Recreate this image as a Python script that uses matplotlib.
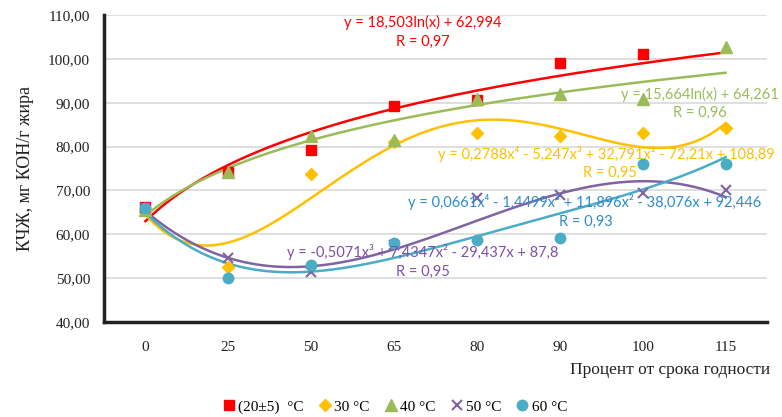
import numpy as np
import matplotlib.pyplot as plt

# данные
categories = ['0', '25', '50', '65', '80', '90', '100', '115']
t20 = [66.2, 74.2, 79.2, 89.2, 90.6, 99.0, 101.1, None]
t30 = [65.5, 52.6, 73.7, 81.0, 83.1, 82.4, 83.2, 84.2]
t40 = [65.5, 74.2, 82.4, 81.5, 90.8, 92.0, 90.8, 102.7]
t50 = [66.0, 54.5, 51.4, 57.5, 68.3, 69.0, 69.4, 70.1]
t60 = [66.0, 50.0, 53.0, 58.0, 58.7, 59.2, 76.0, 76.0]

# коэффициенты линий тренда (как на графике)
log20 = [18.503, 62.994]
poly30 = [0.2788, -5.247, 32.791, -72.21, 108.89]
log40 = [15.664, 64.261]
poly50 = [-0.5071, 7.4347, -29.437, 87.8]
poly60 = [0.0661, -1.4499, 11.896, -38.076, 92.446]

red = '#FF0000'
yellow = '#FFC000'
green = '#9BBB59'
purple = '#8064A2'
blue = '#4BACC6'

plt.rcParams['font.family'] = ['Liberation Serif']
fig = plt.figure(figsize=(7.82, 4.17), dpi=100)
ax = fig.add_axes([104 / 782, 1 - 322 / 417, (767 - 104) / 782, (322 - 15) / 417])

x = np.arange(1, len(categories) + 1)
xs = np.linspace(1, 8, 200)

# тренды
ax.plot(xs, log20[0] * np.log(xs) + log20[1], color=red, lw=1.8, zorder=2)
ax.plot(xs, np.polyval(poly30, xs), color=yellow, lw=1.8, zorder=2)
ax.plot(xs, log40[0] * np.log(xs) + log40[1], color=green, lw=1.8, zorder=2)
ax.plot(xs, np.polyval(poly50, xs), color=purple, lw=1.8, zorder=2)
ax.plot(xs, np.polyval(poly60, xs), color=blue, lw=1.8, zorder=2)

# точки
def pts(vals):
    xx = [xi for xi, v in zip(x, vals) if v is not None]
    yy = [v for v in vals if v is not None]
    return xx, yy

ax.plot(*pts(t20), 's', color=red, ms=7.5, ls='none', label='(20±5)  °C', zorder=3)
ax.plot(*pts(t30), 'D', color=yellow, ms=6, ls='none', label='30 °C', zorder=3)
ax.plot(*pts(t40), '^', color=green, ms=8, ls='none', label='40 °C', zorder=3)
ax.plot(*pts(t50), 'x', color=purple, ms=7, mew=1.5, ls='none', label='50 °C', zorder=3)
ax.plot(*pts(t60), 'o', color=blue, ms=7.5, ls='none', label='60 °C', zorder=3)

ax.set_xlim(0.5, 8.5)
ax.set_ylim(40, 110)
ax.set_xticks(x)
ax.set_xticklabels(categories)
yt = np.arange(40, 111, 10)
ax.set_yticks(yt)
ax.yaxis.set_major_formatter(plt.FuncFormatter(lambda v, p: ('%.2f' % v).replace('.', ',')))
ax.tick_params(length=0, labelsize=11, colors='#222222')
ax.tick_params(axis='x', pad=14)
ax.tick_params(axis='y', pad=10)
ax.grid(axis='y', color='#d9d9d9', lw=1.2)
ax.set_axisbelow(True)
for s in ['top', 'right']:
    ax.spines[s].set_visible(False)
for s in ['left', 'bottom']:
    ax.spines[s].set_linewidth(2.5)
    ax.spines[s].set_color('#222222')

ax.set_ylabel('КЧЖ, мг КОН/г жира', fontsize=13, color='#222222', labelpad=10)
fig.text(770 / 782, 1 - 370 / 417, 'Процент от срока годности', ha='right', va='center',
         fontsize=12.5, color='#222222')

# подписи уравнений
eq = dict(family=['Lato', 'DejaVu Sans'], fontsize=10.5, ha='center', va='center')
def ftext(px, py, s, c):
    fig.text(px / 782, 1 - py / 417, s, color=c, **eq)

ftext(423, 22, 'y = 18,503ln(x) + 62,994', red)
ftext(423, 42, 'R = 0,97', red)
ftext(700, 94, 'y = 15,664ln(x) + 64,261', green)
ftext(700, 113, 'R = 0,96', green)
ftext(606, 154, 'y = 0,2788x⁴ - 5,247x³ + 32,791x² - 72,21x + 108,89', yellow)
ftext(610, 173, 'R = 0,95', yellow)
ftext(585, 202, 'y = 0,0661x⁴ - 1,4499x³ + 11,896x² - 38,076x + 92,446', '#2E8BCF')
ftext(586, 222, 'R = 0,93', '#2E8BCF')
ftext(423, 252, 'y = -0,5071x³ + 7,4347x² - 29,437x + 87,8', '#7F4FA8')
ftext(423, 272, 'R = 0,95', '#7F4FA8')

fig.legend(loc='center', bbox_to_anchor=(394 / 782, 1 - 407 / 417), ncol=5, frameon=False,
           fontsize=11, handletextpad=0.1, columnspacing=0.9, handlelength=1.0)

fig.savefig('out.png', dpi=100)
